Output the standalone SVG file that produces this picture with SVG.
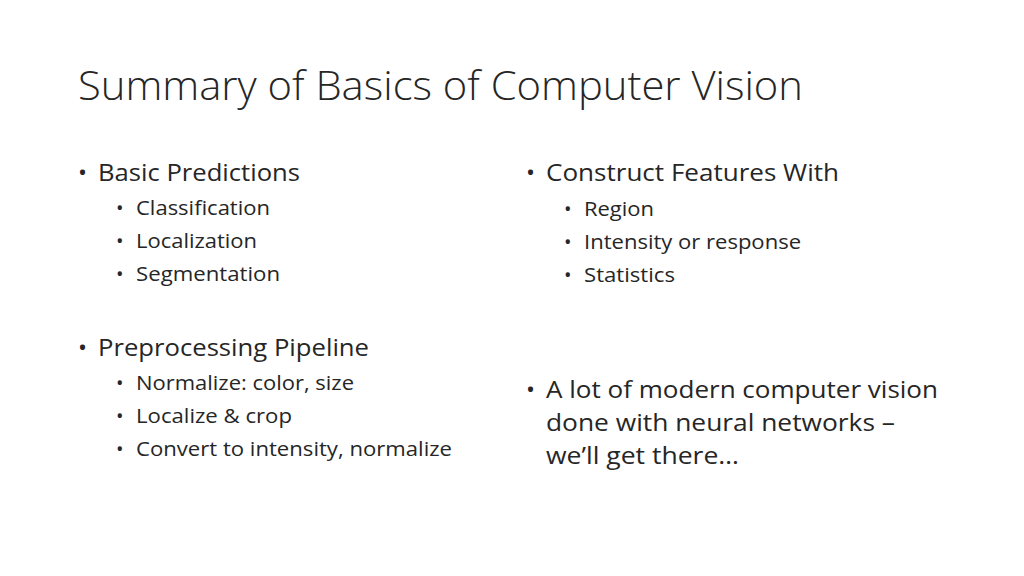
<svg xmlns="http://www.w3.org/2000/svg" width="1024" height="576" viewBox="0 0 1024 576">
<style>
text{font-family:"Open Sans","Liberation Sans",sans-serif;fill:#262626}
.t{font-size:40px;font-weight:300}
.l1{font-size:24px}
.l2{font-size:20px}
</style>
<rect width="1024" height="576" fill="#fff"/>
<text class="t" x="78" y="100" textLength="725" lengthAdjust="spacingAndGlyphs">Summary of Basics of Computer Vision</text>
<g class="l1">
<text class="l1" x="78" y="181">•</text><text class="l1" x="98" y="181" textLength="202" lengthAdjust="spacingAndGlyphs">Basic Predictions</text>
<text class="l1" x="78" y="356">•</text><text class="l1" x="98" y="356" textLength="271" lengthAdjust="spacingAndGlyphs">Preprocessing Pipeline</text>
<text class="l1" x="526" y="181">•</text><text class="l1" x="546" y="181" textLength="293" lengthAdjust="spacingAndGlyphs">Construct Features With</text>
<text class="l1" x="526" y="398">•</text><text class="l1" x="546" y="398" textLength="392" lengthAdjust="spacingAndGlyphs">A lot of modern computer vision</text>
<text class="l1" x="546" y="431" textLength="349" lengthAdjust="spacingAndGlyphs">done with neural networks –</text>
<text class="l1" x="546" y="464" textLength="193" lengthAdjust="spacingAndGlyphs">we’ll get there…</text>
</g>
<g>
<text class="l2" x="116" y="215">•</text><text class="l2" x="136" y="215" textLength="134" lengthAdjust="spacingAndGlyphs">Classification</text>
<text class="l2" x="116" y="248">•</text><text class="l2" x="136" y="248" textLength="121" lengthAdjust="spacingAndGlyphs">Localization</text>
<text class="l2" x="116" y="281">•</text><text class="l2" x="136" y="281" textLength="144" lengthAdjust="spacingAndGlyphs">Segmentation</text>
<text class="l2" x="116" y="390">•</text><text class="l2" x="136" y="390" textLength="218" lengthAdjust="spacingAndGlyphs">Normalize: color, size</text>
<text class="l2" x="116" y="423">•</text><text class="l2" x="136" y="423" textLength="156" lengthAdjust="spacingAndGlyphs">Localize &amp; crop</text>
<text class="l2" x="116" y="456">•</text><text class="l2" x="136" y="456" textLength="316" lengthAdjust="spacingAndGlyphs">Convert to intensity, normalize</text>
<text class="l2" x="564" y="216">•</text><text class="l2" x="584" y="216" textLength="70" lengthAdjust="spacingAndGlyphs">Region</text>
<text class="l2" x="564" y="249">•</text><text class="l2" x="584" y="249" textLength="217" lengthAdjust="spacingAndGlyphs">Intensity or response</text>
<text class="l2" x="564" y="282">•</text><text class="l2" x="584" y="282" textLength="91" lengthAdjust="spacingAndGlyphs">Statistics</text>
</g>
</svg>
